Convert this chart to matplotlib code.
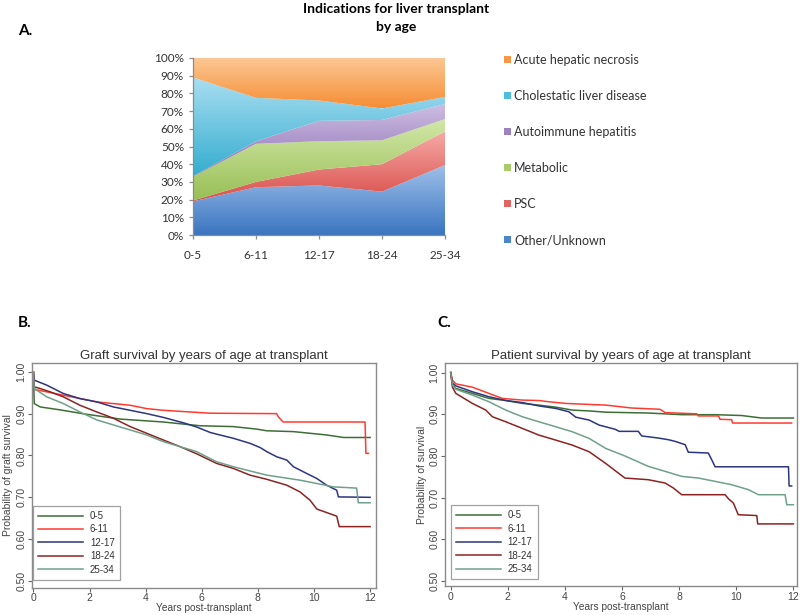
import numpy as np
import matplotlib
matplotlib.use("Agg")
import matplotlib.pyplot as plt
from matplotlib.colors import LinearSegmentedColormap
from matplotlib.patches import Patch

# ---------------- Panel A data (percent of transplants) ----------------
age_groups = ["0-5", "6-11", "12-17", "18-24", "25-34"]
other_unknown = [19, 27, 28, 24.5, 39.5]
psc = [0.5, 3, 9, 15.5, 19]
metabolic = [13.5, 21.5, 16, 13.5, 7]
autoimmune = [0.3, 1.5, 11.5, 11.5, 8.5]
cholestatic = [55.7, 24.5, 11.5, 6.5, 4]
acute_necrosis = [11, 22.5, 24, 28.5, 22]

indication_names = ["Other/Unknown", "PSC", "Metabolic", "Autoimmune hepatitis",
                    "Cholestatic liver disease", "Acute hepatic necrosis"]
# gradient (bottom colour, top colour) per series
indication_colors = [("#3a75c0", "#9fc0ea"), ("#d9504c", "#f6aaa6"),
                     ("#98bf55", "#d3e8a9"), ("#8d70b4", "#cdbde2"),
                     ("#33adce", "#aadef2"), ("#f68d33", "#fcc896")]
legend_colors = ["#4a86cc", "#e06560", "#a8cc6a", "#9b82c0", "#4bbfdc", "#f79646"]

# ---------------- Panel B data: graft survival ----------------
g05_t = [0, 0.03, 0.24, 0.95, 1.84, 3.09, 4.63, 5.94, 7.13, 7.96, 8.32, 9.27, 10.45, 11.05, 12.0]
g05_s = [1.0, 0.924, 0.916, 0.909, 0.899, 0.887, 0.880, 0.871, 0.869, 0.863, 0.859, 0.857, 0.849, 0.843, 0.843]
g611_t = [0, 0.03, 0.48, 1.07, 1.66, 2.26, 2.85, 3.45, 4.04, 4.63, 5.58, 6.3, 8.67, 8.73, 8.9, 11.82, 11.85, 11.94]
g611_s = [1.0, 0.958, 0.952, 0.944, 0.936, 0.928, 0.924, 0.920, 0.912, 0.908, 0.904, 0.901, 0.900, 0.892, 0.880, 0.880, 0.805, 0.805]
g1217_t = [0, 0.03, 0.48, 1.07, 1.66, 2.26, 2.85, 3.45, 4.04, 4.63, 5.35, 5.82, 6.3, 6.53, 7.13, 7.72, 8.08,
           8.32, 8.67, 9.03, 9.27, 9.74, 10.1, 10.45, 10.81, 10.87, 12.0]
g1217_s = [1.0, 0.98, 0.968, 0.948, 0.936, 0.928, 0.916, 0.908, 0.900, 0.891, 0.878, 0.868, 0.855, 0.851, 0.841,
           0.829, 0.819, 0.809, 0.797, 0.789, 0.773, 0.757, 0.745, 0.729, 0.717, 0.701, 0.700]
g1824_t = [0, 0.03, 0.24, 0.6, 1.07, 1.66, 2.26, 2.85, 3.45, 4.04, 4.63, 5.23, 5.82, 6.53, 7.13, 7.72, 8.32,
           9.03, 9.5, 9.86, 10.1, 10.81, 10.9, 12.0]
g1824_s = [1.0, 0.964, 0.960, 0.952, 0.940, 0.920, 0.904, 0.889, 0.869, 0.853, 0.837, 0.821, 0.804, 0.781,
           0.769, 0.753, 0.743, 0.729, 0.713, 0.693, 0.672, 0.655, 0.630, 0.630]
g2534_t = [0, 0.03, 0.48, 1.07, 1.66, 2.26, 2.85, 3.45, 4.04, 4.63, 5.23, 5.82, 6.53, 7.13, 7.72, 8.32, 8.91,
           9.5, 10.1, 10.69, 11.52, 11.58, 12.0]
g2534_s = [1.0, 0.960, 0.940, 0.924, 0.904, 0.885, 0.873, 0.861, 0.849, 0.833, 0.821, 0.809, 0.785, 0.773,
           0.763, 0.753, 0.747, 0.741, 0.733, 0.725, 0.722, 0.687, 0.687]

# ---------------- Panel C data: patient survival ----------------
p05_t = [0, 0.06, 0.18, 0.76, 1.34, 1.93, 2.51, 3.09, 3.68, 4.26, 4.85, 5.43, 6.92, 8.09, 9.26, 10.19, 10.89, 12.0]
p05_s = [1.0, 0.970, 0.962, 0.950, 0.938, 0.933, 0.926, 0.922, 0.917, 0.910, 0.908, 0.905, 0.903, 0.899,
         0.899, 0.897, 0.891, 0.891]
p611_t = [0, 0.06, 0.18, 0.76, 1.34, 1.81, 2.51, 3.09, 3.44, 4.03, 4.73, 5.43, 6.34, 7.33, 7.51, 8.62, 8.67,
          9.38, 9.43, 9.84, 9.87, 11.94]
p611_s = [1.0, 0.982, 0.973, 0.965, 0.950, 0.938, 0.934, 0.933, 0.930, 0.926, 0.924, 0.922, 0.915, 0.912,
          0.904, 0.901, 0.896, 0.896, 0.888, 0.887, 0.879, 0.879]
p1217_t = [0, 0.06, 0.18, 0.76, 1.34, 1.93, 2.51, 3.09, 3.68, 4.14, 4.38, 4.85, 5.2, 5.76, 5.9, 6.57, 6.69,
           7.27, 7.62, 7.86, 8.21, 8.32, 9.02, 9.14, 9.26, 11.83, 11.85, 11.94]
p1217_s = [1.0, 0.975, 0.968, 0.954, 0.942, 0.933, 0.928, 0.920, 0.914, 0.906, 0.893, 0.886, 0.874, 0.864,
           0.859, 0.859, 0.848, 0.843, 0.839, 0.835, 0.827, 0.809, 0.807, 0.791, 0.774, 0.774, 0.728, 0.728]
p1824_t = [0, 0.06, 0.18, 0.76, 1.23, 1.46, 1.93, 2.51, 3.09, 3.68, 4.26, 4.85, 5.43, 6.1, 6.92, 7.51, 7.8,
           8.09, 9.61, 9.73, 9.9, 10.07, 10.72, 10.75, 12.0]
p1824_s = [1.0, 0.965, 0.950, 0.926, 0.910, 0.894, 0.882, 0.866, 0.850, 0.838, 0.826, 0.810, 0.782, 0.747,
           0.743, 0.735, 0.723, 0.707, 0.707, 0.697, 0.687, 0.659, 0.657, 0.637, 0.637]
p2534_t = [0, 0.06, 0.18, 0.76, 1.34, 1.93, 2.51, 3.09, 3.68, 4.26, 4.85, 5.43, 6.1, 6.92, 7.51, 8.09, 8.67,
           9.26, 9.84, 10.43, 10.78, 11.71, 11.77, 12.0]
p2534_s = [1.0, 0.970, 0.960, 0.946, 0.930, 0.910, 0.894, 0.882, 0.870, 0.858, 0.842, 0.818, 0.800, 0.775,
           0.763, 0.751, 0.747, 0.739, 0.731, 0.719, 0.707, 0.707, 0.683, 0.683]

km_labels = ["0-5", "6-11", "12-17", "18-24", "25-34"]
km_colors = ["#3c6e35", "#ff3b30", "#2c3580", "#8e2222", "#6fa08a"]

W, H = 800, 615
fig = plt.figure(figsize=(W / 100, H / 100), dpi=100)


def box(x0, y0, x1, y1):
    # pixel box (top-left origin) -> figure fraction rect
    return [x0 / W, 1 - y1 / H, (x1 - x0) / W, (y1 - y0) / H]


# ================= Panel A =================
axA = fig.add_axes(box(193, 58, 445, 235))
x = np.arange(len(age_groups))
series = [other_unknown, psc, metabolic, autoimmune, cholestatic, acute_necrosis]
lower = np.zeros(len(age_groups))
for vals, (c_lo, c_hi) in zip(series, indication_colors):
    upper = lower + np.array(vals)
    poly = axA.fill_between(x, lower, upper, facecolor="none", edgecolor="none")
    ymin, ymax = lower.min(), upper.max()
    cmap = LinearSegmentedColormap.from_list("g", [c_lo, c_hi])
    grad = np.linspace(0, 1, 256).reshape(-1, 1)
    im = axA.imshow(grad, cmap=cmap, origin="lower", aspect="auto",
                    extent=(x[0], x[-1], ymin, ymax), zorder=1)
    im.set_clip_path(poly.get_paths()[0], transform=axA.transData)
    lower = upper

axA.set_xlim(0, 4)
axA.set_ylim(0, 100)
axA.set_yticks(range(0, 101, 10))
axA.set_yticklabels([f"{v}%" for v in range(0, 101, 10)])
axA.set_xticks(x)
axA.set_xticklabels(age_groups)
for s in ["top", "right"]:
    axA.spines[s].set_visible(False)
for s in ["left", "bottom"]:
    axA.spines[s].set_color("#8c8c8c")
    axA.spines[s].set_linewidth(0.9)
axA.tick_params(colors="#8c8c8c", length=3, width=0.9, labelcolor="#333333",
                labelsize=8.5, labelfontfamily="Lato")
axA.tick_params(axis="x", pad=8)

handles = [Patch(facecolor=c, edgecolor="none") for c in legend_colors][::-1]
fig.legend(handles, indication_names[::-1], loc="upper left",
           bbox_to_anchor=(493 / W, 1 - 43 / H), frameon=False,
           prop={"family": "Lato", "size": 9}, handlelength=0.5, handleheight=0.5,
           handletextpad=0.3, labelspacing=1.92, labelcolor="#333333")

fig.text(396 / W, 1 - 18 / H, "Indications for liver transplant\nby age", ha="center",
         va="center", fontsize=10, fontweight="bold", family="Lato", linespacing=1.6)
fig.text(18 / W, 1 - 31 / H, "A.", fontsize=11, fontweight="bold", family="Lato", va="center")
fig.text(18 / W, 1 - 323 / H, "B.", fontsize=11, fontweight="bold", family="Lato", va="center")
fig.text(437 / W, 1 - 323 / H, "C.", fontsize=11, fontweight="bold", family="Lato", va="center")


# ================= Panels B and C =================
def km_panel(rect, xlim, ylim, curves, title, ylabel, leg_anchor):
    ax = fig.add_axes(rect)
    for (t, s), lab, col in zip(curves, km_labels, km_colors):
        ax.plot(t, s, color=col, lw=1.1, label=lab)
    ax.set_xlim(*xlim)
    ax.set_ylim(*ylim)
    ax.set_xticks(range(0, 13, 2))
    ax.set_yticks([0.5, 0.6, 0.7, 0.8, 0.9, 1.0])
    ax.set_yticklabels(["0.50", "0.60", "0.70", "0.80", "0.90", "1.00"], rotation=90, va="center")
    for sp in ax.spines.values():
        sp.set_color("#8a8a8a")
        sp.set_linewidth(1.0)
    ax.tick_params(colors="#666666", length=3, width=0.8, labelcolor="#444444",
                   labelsize=7.5, labelfontfamily="Liberation Sans", pad=1)
    ax.set_title(title, fontsize=9.5, family="Liberation Sans", color="#333333", pad=3)
    ax.set_ylabel(ylabel, fontsize=7.5, family="Liberation Sans", color="#444444", labelpad=2)
    ax.set_xlabel("Years post-transplant", fontsize=7.3, family="Liberation Sans",
                  color="#444444", labelpad=0)
    leg = ax.legend(loc="lower left", bbox_to_anchor=leg_anchor, frameon=True, fancybox=False,
                    prop={"family": "Liberation Sans", "size": 7}, handlelength=4.6,
                    handletextpad=0.7, labelspacing=0.35, borderpad=0.55,
                    labelcolor="#333333")
    leg.get_frame().set_edgecolor("#8a8a8a")
    leg.get_frame().set_linewidth(0.9)
    return ax


km_panel(box(31.7, 363, 376, 587.5), (-0.06, 12.21), (0.4845, 1.021),
         [(g05_t, g05_s), (g611_t, g611_s), (g1217_t, g1217_s), (g1824_t, g1824_s), (g2534_t, g2534_s)],
         "Graft survival by years of age at transplant", "Probability of graft survival",
         (-0.01, 0.012))
km_panel(box(445, 363, 796.5, 586), (-0.2, 12.11), (0.4880, 1.023),
         [(p05_t, p05_s), (p611_t, p611_s), (p1217_t, p1217_s), (p1824_t, p1824_s), (p2534_t, p2534_s)],
         "Patient survival by years of age at transplant", "Probability of survival",
         (0.003, 0.008))

fig.savefig("out.png", dpi=100)
